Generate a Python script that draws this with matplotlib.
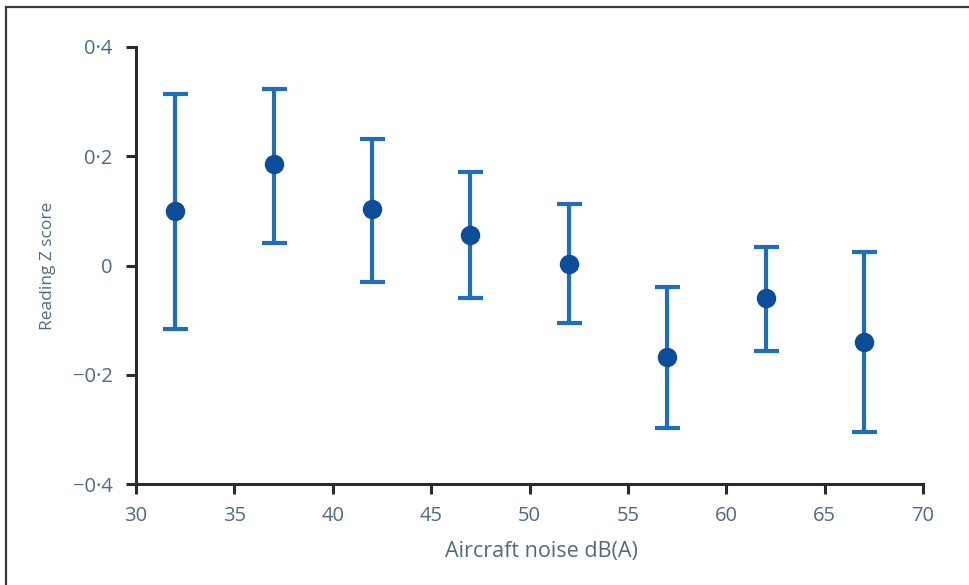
import matplotlib
matplotlib.use("Agg")
import matplotlib.pyplot as plt
from matplotlib.patches import Rectangle

noise_db = [32, 37, 42, 47, 52, 57, 62, 67]
z_mean = [0.100, 0.185, 0.103, 0.056, 0.003, -0.168, -0.060, -0.140]
z_upper = [0.314, 0.323, 0.231, 0.171, 0.113, -0.040, 0.034, 0.025]
z_lower = [-0.116, 0.042, -0.030, -0.060, -0.105, -0.298, -0.156, -0.305]

x_ticks = [30, 35, 40, 45, 50, 55, 60, 65, 70]
y_ticks = [-0.4, -0.2, 0, 0.2, 0.4]
y_tick_labels = ["\u22120\u00b74", "\u22120\u00b72", "0", "0\u00b72", "0\u00b74"]

text_color = "#4f6a82"
bar_color = "#1f6fb8"
dot_color = "#0d4c98"

plt.rcParams['font.family'] = ['Open Sans', 'DejaVu Sans']

fig = plt.figure(figsize=(9.7, 5.85), dpi=100)
fig.patch.set_facecolor("white")
fig.patches.append(Rectangle((6/970, -0.05), 1.2, (585-7)/585 + 0.05,
                             transform=fig.transFigure, fill=False,
                             edgecolor="#3a3a3a", linewidth=1.6))

ax = fig.add_axes([136/970, 101/585, 787/970, 437/585])
ax.set_facecolor("none")

yerr = [[m - lo for m, lo in zip(z_mean, z_lower)],
        [hi - m for m, hi in zip(z_mean, z_upper)]]
ax.errorbar(noise_db, z_mean, yerr=yerr, fmt='none', ecolor=bar_color,
            elinewidth=3.0, capsize=9, capthick=3.0, zorder=2)
ax.plot(noise_db, z_mean, 'o', color=dot_color, markersize=13, zorder=3)

ax.set_xlim(30, 70)
ax.set_ylim(-0.4, 0.4)
ax.set_xticks(x_ticks)
ax.set_yticks(y_ticks)
ax.set_yticklabels(y_tick_labels)

for s in ['top', 'right']:
    ax.spines[s].set_visible(False)
for s in ['left', 'bottom']:
    ax.spines[s].set_linewidth(2.2)
    ax.spines[s].set_color("#2b2b2b")

ax.tick_params(axis='both', direction='out', length=7, width=2.2,
               color="#2b2b2b", labelcolor=text_color, labelsize=14.5)
ax.tick_params(axis='x', pad=9)
ax.tick_params(axis='y', pad=10)

ax.set_xlabel("Aircraft noise dB(A)", color=text_color, fontsize=15.5)
ax.set_ylabel("Reading Z score", color=text_color, fontsize=12.5)
ax.yaxis.set_label_coords(-0.102, 0.5)
ax.xaxis.set_label_coords(0.515, -0.13)

fig.savefig("out.png", dpi=100)
